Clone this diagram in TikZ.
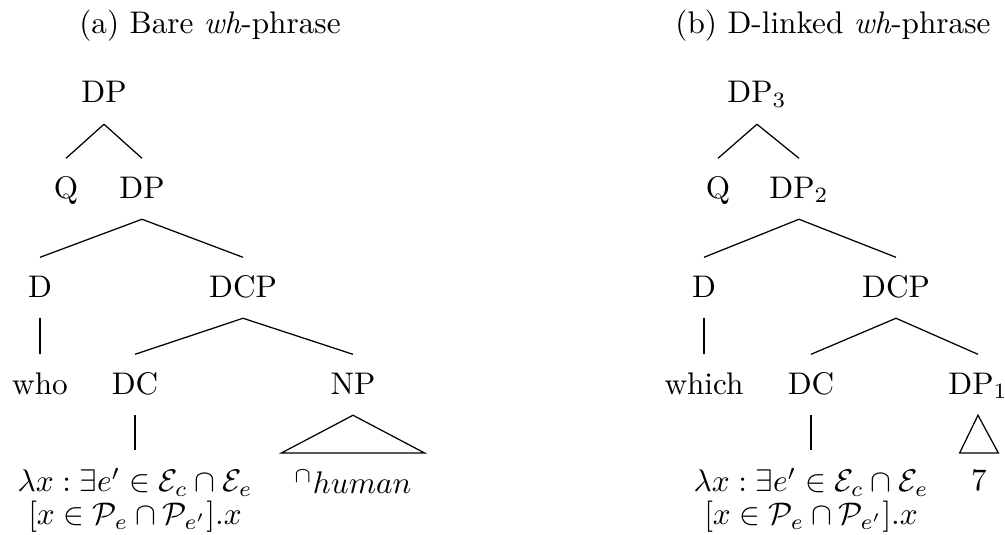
\documentclass[tikz,border=0pt]{standalone}
\usepackage{amsfonts, amssymb, amsmath}
\usepackage{tikz}
\usetikzlibrary{calc}
\tikzset{
  cat/.style={
    anchor=base,
    text height=6.8pt,
    text depth=0.9pt,
    inner ysep=5.7pt},
  leaf/.style={
    anchor=north,
    align=center,
    inner ysep=5.7pt},
  roof/.style={
    anchor=north,
    inner ysep=5.2pt}
  }

\begin{document}
\begin{tikzpicture}[x=3.2pt,y=-3.2pt]
    \useasboundingbox (0,0) rectangle (100.5,53.5);
    % (a) bare wh-phrase
    \node[anchor=base] (ta) at (21,3.3) {(a) Bare \textit{wh}-phrase};
    \node[cat] (dpa) at (10.4,10.3) {DP};
    \node[cat] (qa) at (6.6,19.8) {Q};
    \node[cat] (dpb) at (14.2,19.8) {DP};
    \node[cat] (da) at (4.0,29.7) {D};
    \node[cat] (dcpa) at (24.3,29.7) {DCP};
    \node[cat] (who) at (4.0,39.4) {who};
    \node[cat] (dca) at (13.5,39.4) {DC};
    \node[cat] (np) at (35.3,39.4) {NP};
    \node[leaf] (lama) at (13.5,45.0)
      {$\lambda x : \exists e' \in \mathcal{E}_c \cap \mathcal{E}_e$\\[-1.6pt]
       $[x \in \mathcal{P}_e \cap \mathcal{P}_{e'}].x$};
    \node[roof,inner xsep=4pt] (human) at (35.3,45.3) {$^\cap human$};
    \draw
    (dpa.south) edge (qa.north)
    (dpa.south) edge (dpb.north)
    (dpb.south) edge (da.north)
    (dpb.south) edge (dcpa.north)
    (da.south) edge (who.north)
    (dcpa.south) edge (dca.north)
    (dcpa.south) edge (np.north)
    (dca.south) edge (lama.north);
    \draw (np.south) -- (human.north west) -- (human.north east) -- cycle;
    % (b) d-linked wh-phrase
    \node[anchor=base] (tb) at (83.3,3.3) {(b) D-linked \textit{wh}-phrase};
    \node[cat] (dpiii) at (75.7,10.3) {DP$_3$};
    \node[cat] (qb) at (71.8,19.8) {Q};
    \node[cat] (dpii) at (79.9,19.8) {DP$_2$};
    \node[cat] (db) at (70.4,29.7) {D};
    \node[cat] (dcpb) at (89.6,29.7) {DCP};
    \node[cat] (which) at (70.4,39.4) {which};
    \node[cat] (dcb) at (81.1,39.4) {DC};
    \node[cat] (dpi) at (97.8,39.4) {DP$_1$};
    \node[leaf] (lamb) at (81.1,45.0)
      {$\lambda x : \exists e' \in \mathcal{E}_c \cap \mathcal{E}_e$\\[-1.6pt]
       $[x \in \mathcal{P}_e \cap \mathcal{P}_{e'}].x$};
    \node[roof,inner xsep=3.5pt] (seven) at (97.9,45.3) {$7$};
    \draw
    (dpiii.south) edge (qb.north)
    (dpiii.south) edge (dpii.north)
    (dpii.south) edge (db.north)
    (dpii.south) edge (dcpb.north)
    (db.south) edge (which.north)
    (dcpb.south) edge (dcb.north)
    (dcpb.south) edge (dpi.north)
    (dcb.south) edge (lamb.north);
    \draw (dpi.south) -- (seven.north west) -- (seven.north east) -- cycle;
  \end{tikzpicture}
\end{document}
